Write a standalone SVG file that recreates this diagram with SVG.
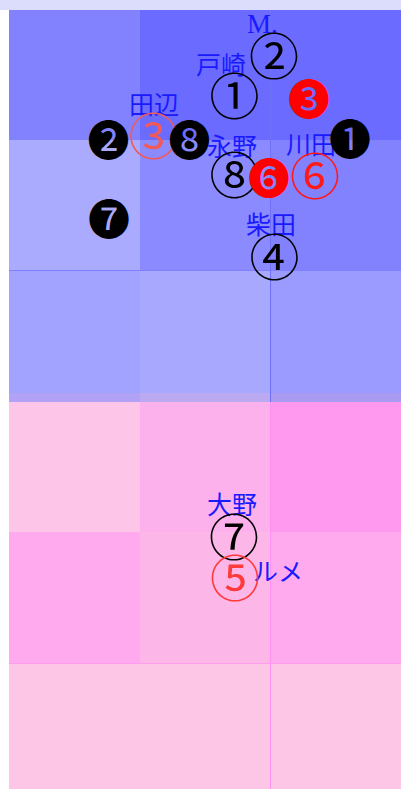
<svg xmlns="http://www.w3.org/2000/svg" width="401" height="789" viewBox="0 0 401 789">
<style>
.lbl{font-family:"Noto Sans CJK JP","Noto Sans CJK SC",sans-serif;font-size:25px;fill:#1a1aff}
.cn{font-family:"Noto Sans CJK JP","Noto Sans CJK SC",sans-serif;text-anchor:middle}
.w{font-size:50px}
.b{font-size:42px}
</style>
<rect x="0" y="0" width="401" height="789" fill="#ffffff"/>
<rect x="0" y="0" width="401" height="10" fill="#dcdcfc"/>
<g id="field">
<rect x="9" y="10" width="131" height="130" fill="#8282ff"/>
<rect x="140" y="10" width="261" height="130" fill="#6b6bff"/>
<rect x="9" y="140" width="131" height="130" fill="#aaaaff"/>
<rect x="140" y="140" width="130" height="130" fill="#8b8bff"/>
<rect x="270" y="140" width="131" height="130" fill="#8282ff"/>
<rect x="9" y="270" width="131" height="123" fill="#a2a2ff"/>
<rect x="140" y="270" width="130" height="123" fill="#a8a8ff"/>
<rect x="270" y="270" width="131" height="123" fill="#9a9aff"/>
<rect x="9" y="393" width="131" height="9" fill="#b2a2f6"/>
<rect x="140" y="393" width="130" height="9" fill="#bba9f2"/>
<rect x="270" y="393" width="131" height="9" fill="#a99af2"/>
<rect x="9" y="402" width="131" height="130" fill="#fdc5e8"/>
<rect x="140" y="402" width="130" height="130" fill="#fdb1ec"/>
<rect x="270" y="402" width="131" height="130" fill="#ff99f0"/>
<rect x="9" y="532" width="131" height="131" fill="#ffaaee"/>
<rect x="140" y="532" width="130" height="131" fill="#fdb6e8"/>
<rect x="270" y="532" width="131" height="131" fill="#ffaaee"/>
<rect x="9" y="663" width="392" height="126" fill="#fdc5e6"/>
<line x1="9" y1="270.5" x2="401" y2="270.5" stroke="#8080ff" stroke-width="1"/>
<line x1="270.5" y1="10" x2="270.5" y2="402" stroke="#7070f8" stroke-width="1"/>
<line x1="270.5" y1="402" x2="270.5" y2="789" stroke="#ff90f0" stroke-width="1"/>
<line x1="9" y1="663.5" x2="401" y2="663.5" stroke="#ff9cee" stroke-width="1"/>
</g>
<g id="label-M"><text x="247" y="33" style="font-family:'Liberation Serif',serif;font-size:27px;fill:#1a1aff">M.</text></g>
<g id="label-tozaki"><text class="lbl" x="196" y="74">戸崎</text></g>
<g id="label-tanabe"><text class="lbl" x="129" y="114">田辺</text></g>
<g id="label-nagano"><text class="lbl" x="207" y="156">永野</text></g>
<g id="label-kawata"><text class="lbl" x="286" y="154">川田</text></g>
<g id="label-shibata"><text class="lbl" x="246" y="234">柴田</text></g>
<g id="label-oono"><text class="lbl" x="207" y="514">大野</text></g>
<g id="label-rume"><text class="lbl" x="253" y="581">ルメ</text></g>
<g id="n-w2"><text class="cn w" x="274" y="75">②</text></g>
<g id="n-w1"><text class="cn w" x="234.5" y="115">①</text></g>
<g id="n-b3"><text class="cn b" x="309" y="115" fill="#ff0000">❸</text></g>
<g id="n-b2"><text class="cn b" x="108.5" y="156">❷</text></g>
<g id="n-w3"><text class="cn w" x="153.5" y="154.5" fill="#f05a5a">③</text></g>
<g id="n-b8"><text class="cn b" x="189.5" y="155.5">❽</text></g>
<g id="n-b1"><text class="cn b" x="350" y="155">❶</text></g>
<g id="n-w8"><text class="cn w" x="234.5" y="194">⑧</text></g>
<g id="n-b6"><text class="cn b" x="269" y="193.5" fill="#ff0000">❻</text></g>
<g id="n-w6"><text class="cn w" x="315" y="194.5" fill="#ff1a1a">⑥</text></g>
<g id="n-b7"><text class="cn b" x="109" y="235">❼</text></g>
<g id="n-w4"><text class="cn w" x="274.5" y="275.5">④</text></g>
<g id="n-w7"><text class="cn w" x="234" y="555.5">⑦</text></g>
<g id="n-w5"><text class="cn w" x="235" y="597" fill="#ff3a3a">⑤</text></g>
</svg>
